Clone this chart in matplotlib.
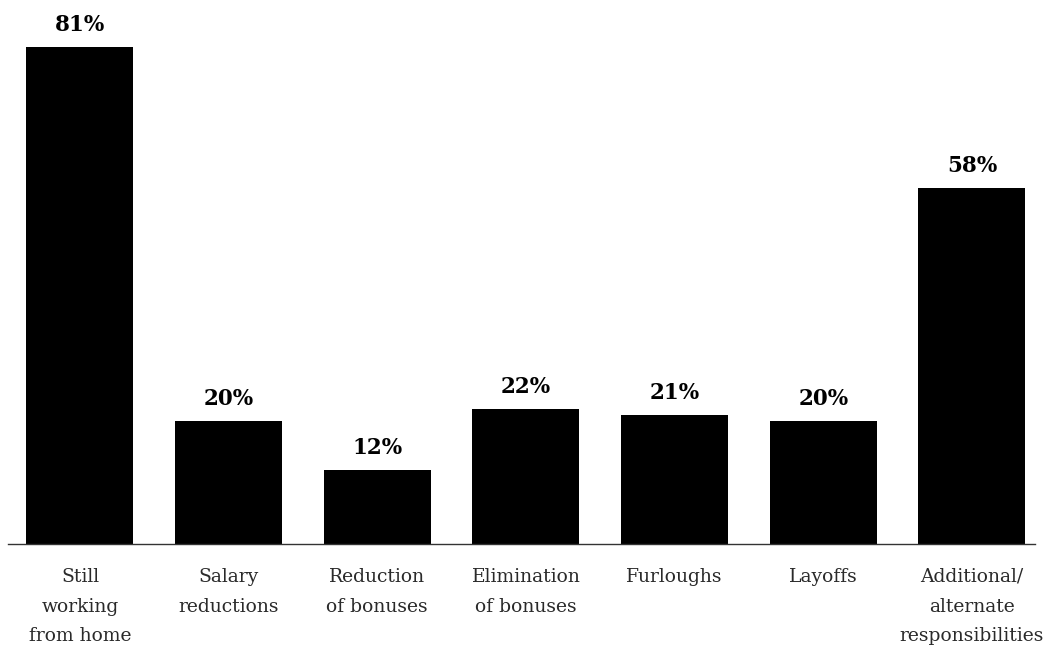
import matplotlib
matplotlib.use("Agg")
import matplotlib.pyplot as plt

categories = [
    "Still\nworking\nfrom home",
    "Salary\nreductions",
    "Reduction\nof bonuses",
    "Elimination\nof bonuses",
    "Furloughs",
    "Layoffs",
    "Additional/\nalternate\nresponsibilities",
]
values = [81, 20, 12, 22, 21, 20, 58]

fig = plt.figure(figsize=(10.44, 6.49), dpi=100)
ax = fig.add_axes([8 / 1044, 105 / 649, 1027 / 1044, 540 / 649])

x = list(range(len(categories)))
bars = ax.bar(x, values, width=0.72, color="black")

ax.set_xlim(-0.484, 6.424)
ax.set_ylim(0, 88)

for xi, v in zip(x, values):
    ax.annotate(f"{v}%", (xi, v), xytext=(0, 8), textcoords="offset points",
                ha="center", va="bottom", fontsize=15.5, fontweight="bold",
                family="DejaVu Serif", color="black")

ax.set_xticks(x)
ax.set_xticklabels(categories, family="DejaVu Serif", fontsize=13.5,
                   linespacing=1.85, color="#2a2a2a")
ax.tick_params(axis="x", length=0, pad=17)
ax.set_yticks([])
for side in ("top", "right", "left"):
    ax.spines[side].set_visible(False)
ax.spines["bottom"].set_color("#333333")
ax.spines["bottom"].set_linewidth(1.0)

fig.savefig("out.png", dpi=100)
